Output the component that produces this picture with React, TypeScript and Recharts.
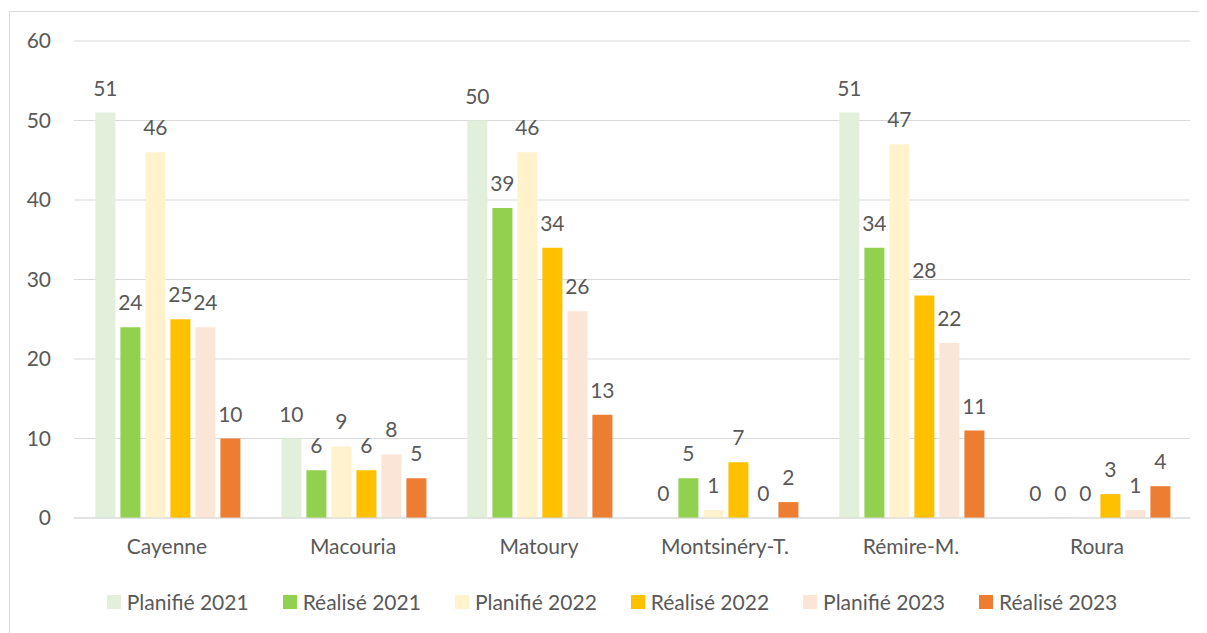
import React from 'react'
import { BarChart, Bar, XAxis, YAxis, CartesianGrid, Legend, LabelList } from 'recharts'

const communes = ['Cayenne', 'Macouria', 'Matoury', 'Montsinéry-T.', 'Rémire-M.', 'Roura']
const planifie2021 = [51, 10, 50, 0, 51, 0]
const realise2021 = [24, 6, 39, 5, 34, 0]
const planifie2022 = [46, 9, 46, 1, 47, 0]
const realise2022 = [25, 6, 34, 7, 28, 3]
const planifie2023 = [24, 8, 26, 0, 22, 1]
const realise2023 = [10, 5, 13, 2, 11, 4]
const yTicks = [0, 10, 20, 30, 40, 50, 60]

const series = [
  { key: 'p21', name: 'Planifié 2021', color: '#E2EFDA' },
  { key: 'r21', name: 'Réalisé 2021', color: '#92D050' },
  { key: 'p22', name: 'Planifié 2022', color: '#FFF2CC' },
  { key: 'r22', name: 'Réalisé 2022', color: '#FFC000' },
  { key: 'p23', name: 'Planifié 2023', color: '#FBE5D6' },
  { key: 'r23', name: 'Réalisé 2023', color: '#ED7D31' },
]

const data = communes.map((c, i) => ({
  name: c,
  p21: planifie2021[i],
  r21: realise2021[i],
  p22: planifie2022[i],
  r22: realise2022[i],
  p23: planifie2023[i],
  r23: realise2023[i],
}))

const FONT = 'Lato, "Open Sans", sans-serif'
const TEXT = '#595959'
const FS = 21

const LegendContent = () => (
  <div
    style={{
      display: 'flex',
      justifyContent: 'center',
      gap: 34,
      paddingLeft: 24,
      fontFamily: FONT,
      fontSize: FS,
      lineHeight: '22px',
      color: TEXT,
    }}
  >
    {series.map((s) => (
      <div key={s.key} style={{ display: 'flex', alignItems: 'center' }}>
        <span style={{ display: 'inline-block', width: 14, height: 14, background: s.color, marginRight: 6 }} />
        {s.name}
      </div>
    ))}
  </div>
)

export default function App() {
  return (
    <div
      style={{
        marginLeft: 1,
        marginTop: 3,
        width: 1194,
        height: 640,
        border: '1px solid #d9d9d9',
        background: '#fff',
        fontFamily: FONT,
      }}
    >
      <BarChart
        width={1194}
        height={600}
        data={data}
        margin={{ top: 29, right: 14, left: 0, bottom: 32 }}
        barGap={5}
        barCategoryGap="11.5%"
      >
        <CartesianGrid vertical={false} stroke="#d9d9d9" />
        <XAxis
          dataKey="name"
          height={40}
          axisLine={{ stroke: '#d9d9d9' }}
          tickLine={false}
          tickMargin={15}
          tick={{ fill: TEXT, fontSize: FS, fontFamily: FONT }}
        />
        <YAxis
          width={64}
          domain={[0, 60]}
          ticks={yTicks}
          axisLine={false}
          tickLine={false}
          tickMargin={17}
          tick={{ fill: TEXT, fontSize: FS, fontFamily: FONT }}
        />
        <Legend verticalAlign="bottom" wrapperStyle={{ bottom: -1 }} content={<LegendContent />} />
        {series.map((s) => (
          <Bar key={s.key} dataKey={s.key} name={s.name} fill={s.color} minPointSize={0.1} isAnimationActive={false}>
            <LabelList dataKey={s.key} position="top" offset={17} fill={TEXT} fontSize={FS} fontFamily={FONT} />
          </Bar>
        ))}
      </BarChart>
    </div>
  )
}
